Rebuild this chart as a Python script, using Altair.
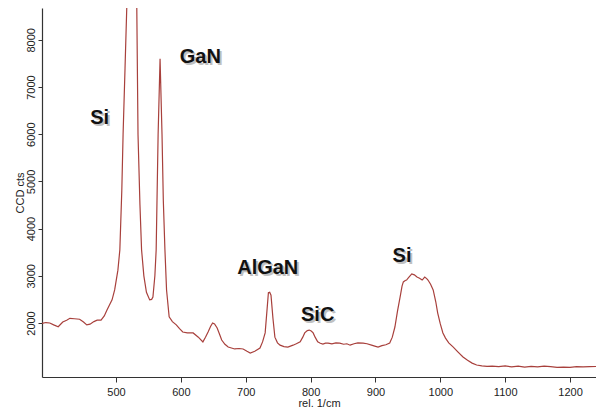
import altair as alt
import pandas as pd

wavenumber = [386, 392, 398, 404, 411, 418, 424, 429, 436, 444, 450, 455, 460, 466, 471, 477, 482, 486, 490, 494,
               498, 503, 506, 509, 511, 514, 517, 520, 523, 526, 529, 532, 534, 537, 539.5, 543, 547, 552, 555, 557,
               560, 562, 565, 568, 571, 573, 575.5, 578, 582, 587, 593, 598, 603, 610, 619, 627, 634, 638, 642, 646,
               649, 652, 656, 660, 663, 668, 673, 678, 683, 690, 696, 702, 707, 714, 722, 726, 730, 733, 735, 737,
               739, 742, 745, 749, 753, 759, 765, 769, 773, 778, 784, 788, 791, 795, 798, 801, 804, 807, 811, 815,
               819, 823, 827, 833, 839, 845, 851, 856, 861, 867, 873, 881, 887, 894, 899, 904, 910, 916, 922, 926,
               930, 934, 938, 941, 943, 946, 948, 951, 956, 960, 964, 968, 972, 974, 976, 979, 981, 985, 989, 993,
               996, 1000, 1004, 1008, 1013, 1020, 1027, 1035, 1042, 1049, 1056, 1064, 1072, 1080, 1090, 1100, 1110,
               1120, 1130, 1140, 1150, 1160, 1170, 1180, 1190, 1200, 1210, 1220, 1230, 1240]
counts = [1990, 2010, 2000, 1960, 1920, 2020, 2060, 2100, 2090, 2080, 2020, 1960, 1975, 2030, 2060, 2060, 2150, 2270, 2380, 2490,
          2700, 3120, 3550, 4800, 6000, 7400, 8840, 12000, 14000, 13000, 11000, 8840, 6000, 4500, 3550, 3000, 2650, 2490, 2500, 2550,
          3000, 3550, 6000, 7600, 6000, 4600, 3550, 2700, 2130, 2030, 1960, 1880, 1810, 1790, 1790, 1700, 1600, 1700, 1810, 1930,
          2000, 1980, 1895, 1750, 1640, 1550, 1490, 1470, 1450, 1460, 1450, 1400, 1365, 1400, 1470, 1600, 1790, 2300, 2640, 2650,
          2590, 2100, 1700, 1580, 1530, 1500, 1490, 1510, 1530, 1560, 1600, 1700, 1790, 1840, 1850, 1830, 1790, 1700, 1600, 1570,
          1555, 1575, 1575, 1560, 1580, 1575, 1550, 1560, 1530, 1560, 1580, 1575, 1560, 1530, 1510, 1490, 1520, 1540, 1575, 1700,
          1915, 2250, 2550, 2780, 2870, 2900, 2910, 2960, 3040, 3020, 2975, 2950, 2910, 2940, 2975, 2940, 2910, 2820, 2700, 2450,
          2210, 1980, 1790, 1680, 1580, 1490, 1390, 1280, 1210, 1150, 1110, 1090, 1080, 1085, 1075, 1090, 1070,
          1085, 1065, 1080, 1070, 1085, 1075, 1060, 1065, 1060, 1075, 1070, 1075, 1078]

label_text = ["Si", "GaN", "AlGaN", "SiC", "Si"]
label_x = [475, 630, 734, 811, 941]
label_y = [6343, 7636, 3165, 2170, 3420]

x_ticks = [500, 600, 700, 800, 900, 1000, 1100, 1200]
y_ticks = [2000, 3000, 4000, 5000, 6000, 7000, 8000]

spec = pd.DataFrame({"x": wavenumber, "y": counts})
labels = pd.DataFrame({"text": label_text, "x": label_x, "y": label_y})

FONT = "Liberation Sans"
xscale = alt.Scale(domain=[386, 1240], nice=False, zero=False)
yscale = alt.Scale(domain=[856, 8674], nice=False, zero=False)

line = alt.Chart(spec).mark_line(color="#a8403c", strokeWidth=1.2, clip=True).encode(
    x=alt.X("x:Q", scale=xscale,
            axis=alt.Axis(title="rel. 1/cm", values=x_ticks, format="d", grid=False, tickSize=5,
                          labelPadding=4, titlePadding=0, labelFont=FONT, titleFont=FONT,
                          labelFontSize=11, titleFontSize=11, titleFontWeight="normal",
                          labelColor="#222", titleColor="#222", domainColor="#333",
                          tickColor="#333", domainWidth=1.2)),
    y=alt.Y("y:Q", scale=yscale,
            axis=alt.Axis(title="CCD cts", values=y_ticks, format="d", grid=False, tickSize=4,
                          labelAngle=270, labelAlign="center", labelBaseline="bottom",
                          labelPadding=2, titlePadding=0, labelFont=FONT, titleFont=FONT,
                          labelFontSize=11, titleFontSize=11, titleFontWeight="normal",
                          labelColor="#222", titleColor="#222", domainColor="#333",
                          tickColor="#333", domainWidth=1.2)),
)

shadow = alt.Chart(labels).mark_text(font=FONT, fontSize=20, fontWeight="bold",
                                     color="#777", opacity=0.45, dx=2, dy=2).encode(
    x=alt.X("x:Q", scale=xscale), y=alt.Y("y:Q", scale=yscale), text="text:N")
text = alt.Chart(labels).mark_text(font=FONT, fontSize=20, fontWeight="bold", color="#111").encode(
    x=alt.X("x:Q", scale=xscale), y=alt.Y("y:Q", scale=yscale), text="text:N")

chart = alt.layer(line, shadow, text).properties(
    width=554, height=369,
    autosize=alt.AutoSizeParams(type="none"),
    padding={"left": 34, "top": 0, "right": 0, "bottom": 34},
).configure_view(stroke=None)

chart.save("out.html", embed_options={"renderer": "svg", "actions": False})
